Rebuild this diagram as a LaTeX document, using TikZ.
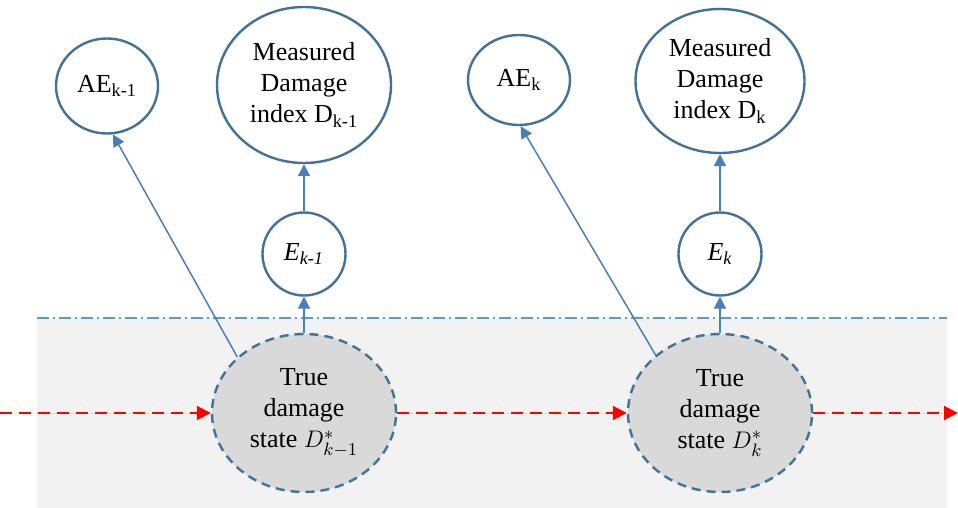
\documentclass[tikz,border=0pt]{standalone}
\usepackage{amsmath}
\usepackage{fontspec}
\setmainfont{Liberation Serif}
\usepackage{tikz}
\usetikzlibrary{arrows.meta,shapes.geometric}
\definecolor{rimblue}{HTML}{41719C}
\definecolor{linkblue}{HTML}{4A7EBB}
\definecolor{zoneblue}{HTML}{5B9BD5}
\definecolor{zonegray}{HTML}{F2F2F2}
\definecolor{hidgray}{HTML}{D9D9D9}
\tikzset{
  obs/.style={ellipse,draw=rimblue,line width=1.2pt,fill=white,inner sep=0pt,align=center},
  hidden/.style={obs,fill=hidgray,dash pattern=on 4.5pt off 3pt,
    minimum width=92pt,minimum height=79pt},
  link/.style={-{Triangle[length=6pt,width=6pt]},draw=linkblue,line width=1pt},
  diag/.style={link,line width=0.75pt},
  transit/.style={-{Triangle[length=7pt,width=7pt]},draw=red,fill=red,line width=1pt,
    dash pattern=on 6pt off 3.5pt},
  every node/.style={font=\fontsize{13}{15.5}\selectfont}
}

\begin{document}
\begin{tikzpicture}[x=0.5pt,y=-0.5pt]
\useasboundingbox (0,0) rectangle (958,508);
% shaded zone of hidden states
\fill[zonegray] (37,318) rectangle (947,508);
\draw[zoneblue,line width=0.75pt,dash pattern=on 6pt off 2pt on 1pt off 2pt] (37,318) -- (947,318);

% stage k-1
\node[hidden] (true1) at (304,413) {True\\damage\\state $D^{*}_{k-1}$};
\node[obs,circle,minimum size=41.5pt] (err1) at (304,254) {\textit{E}$_{\textit{k-1}}$};
\node[obs,minimum width=87pt,minimum height=78pt] (meas1) at (304,85) {Measured\\Damage\\index D$_{\text{k-1}}$};
\node[obs,minimum width=51pt,minimum height=47.5pt] (ae1) at (107,86) {AE\textsubscript{k-1}};

% stage k
\node[hidden] (true2) at (720,413) {True\\damage\\state $D^{*}_{k}$};
\node[obs,circle,minimum size=41.5pt] (err2) at (720,254) {\textit{E}$_{\textit{k}}$};
\node[obs,minimum width=84.5pt,minimum height=72pt] (meas2) at (720,81) {Measured\\Damage\\index D$_{\text{k}}$};
\node[obs,minimum width=51pt,minimum height=45pt] (ae2) at (519,80) {AE$_{\text{k}}$};

\coordinate (start) at (0,413);
\coordinate (stop) at (958,413);

% transitions
\draw[transit] (start) -- (true1.west);
\draw[transit] (true1.east) -- (true2.west);
\draw[transit] (true2.east) -- (stop);

% observations
\draw[link] (true1.north) -- (err1.south);
\draw[link] (err1.north) -- (meas1.south);
\draw[diag] (true1.140) -- (ae1.-83);
\draw[link] (true2.north) -- (err2.south);
\draw[link] (err2.north) -- (meas2.south);
\draw[diag] (true2.138) -- (ae2.-88);
\end{tikzpicture}
\end{document}
